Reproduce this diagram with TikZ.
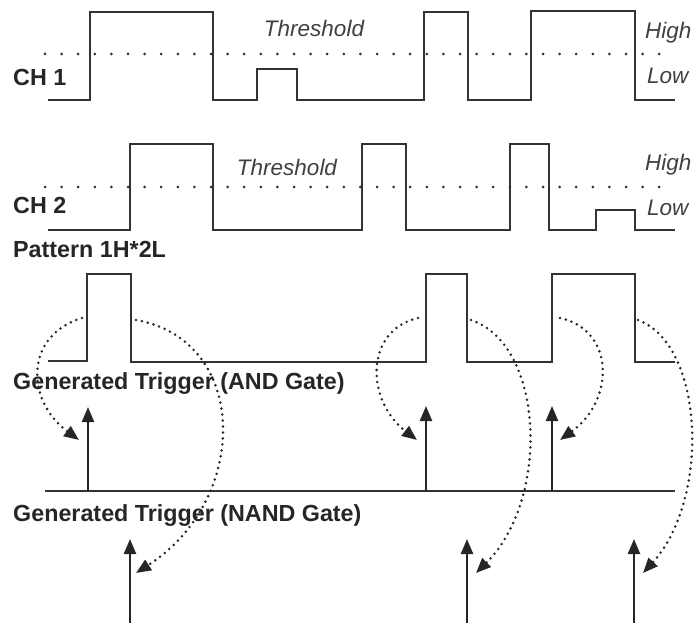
\documentclass[tikz,border=0pt]{standalone}
\usepackage{fontspec}
\setmainfont{Liberation Sans}
\usetikzlibrary{arrows.meta}

\begin{document}
\begin{tikzpicture}[x=1pt, y=-1pt, >={Triangle[length=15pt, width=12pt]},
    wave/.style={draw=black!80, line width=2.3pt},
    thr/.style={draw=black!80, line width=3pt, line cap=round, dash pattern=on 0pt off 16.6pt},
    link/.style={draw=black!85, line width=2.8pt, line cap=round, dash pattern=on 0pt off 6pt, ->},
    trig/.style={draw=black!85, line width=2.3pt, ->},
    lbl/.style={anchor=west, font=\fontsize{23.3}{25}\selectfont\bfseries, text=black!85, inner sep=0pt},
    lvl/.style={anchor=west, font=\fontsize{22.5}{24}\selectfont\itshape, text=black!75, inner sep=0pt}]
  \useasboundingbox (0,0) rectangle (694,623);

  % channel 1
  \draw[thr] (45,54) -- (662,54);
  \draw[wave] (48,100) -| (90,12) -| (213,100) -| (257,69) -| (297,100)
    -| (424,12) -| (468,100) -| (531,11) -| (635,100) -- (675,100);
  \node[lbl] (ch1) at (13,77) {CH 1};
  \node[lvl, anchor=center] (thr1) at (314,28) {Threshold};
  \node[lvl] (hi1) at (645,33) {High};
  \node[lvl] (lo1) at (647,76) {Low};

  % channel 2
  \draw[thr] (45,187) -- (662,187);
  \draw[wave] (48,230) -| (130,144) -| (213,230) -| (362,144) -| (406,230)
    -| (510,144) -| (549,230) -| (596,210) -| (635,230) -- (675,230);
  \node[lbl] (ch2) at (13,205) {CH 2};
  \node[lvl, anchor=center] (thr2) at (287,167) {Threshold};
  \node[lvl] (hi2) at (645,165) {High};
  \node[lvl] (lo2) at (647,208) {Low};

  % pattern
  \node[lbl] (pat) at (13,249) {Pattern 1H*2L};
  \draw[wave] (48,361) -| (87,274) -| (131,362) -| (426,274) -| (467,362)
    -| (552,274) -| (635,362) -- (675,362);

  % AND trigger
  \node[lbl] (and) at (13,384) {Generated Trigger (AND Gate)};
  \coordinate (a1) at (88,491);   \coordinate (a1t) at (88,407);
  \coordinate (a2) at (426,491);  \coordinate (a2t) at (426,406);
  \coordinate (a3) at (552,491);  \coordinate (a3t) at (552,406);
  \draw[wave] (45,491) -- (675,491);
  \draw[trig] (a1) -- (a1t);
  \draw[trig] (a2) -- (a2t);
  \draw[trig] (a3) -- (a3t);

  % NAND trigger
  \node[lbl] (nand) at (13,516) {Generated Trigger (NAND Gate)};
  \coordinate (n1) at (130,623);  \coordinate (n1t) at (130,539);
  \coordinate (n2) at (467,623);  \coordinate (n2t) at (467,539);
  \coordinate (n3) at (634,623);  \coordinate (n3t) at (634,539);
  \draw[trig] (n1) -- (n1t);
  \draw[trig] (n2) -- (n2t);
  \draw[trig] (n3) -- (n3t);

  % edges -> triggers
  \coordinate (r1) at (82,318);   \coordinate (f1) at (136,320);
  \coordinate (r2) at (418,318);  \coordinate (f2) at (471,320);
  \coordinate (r3) at (560,318);  \coordinate (f3) at (638,320);
  \draw[link] (r1) .. controls (25,335) and (25,400) .. (79,440);
  \draw[link] (f1) .. controls (250,340) and (250,500) .. (136,573);
  \draw[link] (r2) .. controls (365,330) and (365,400) .. (417,440);
  \draw[link] (f2) .. controls (545,345) and (550,500) .. (476,573);
  \draw[link] (r3) .. controls (615,330) and (615,400) .. (560,440);
  \draw[link] (f3) .. controls (705,345) and (710,500) .. (643,573);
\end{tikzpicture}
\end{document}
